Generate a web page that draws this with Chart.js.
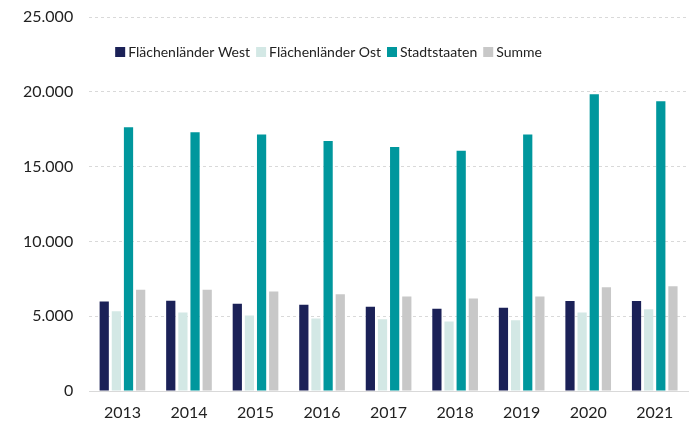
<!DOCTYPE html>
<html>
<head>
<meta charset="utf-8">
<script src="https://cdn.jsdelivr.net/npm/chart.js@4"></script>
<style>
  body { margin: 0; background: #fff; }
  #wrap { width: 693px; height: 424px; }
</style>
</head>
<body>
<div id="wrap"><canvas id="chart"></canvas></div>
<script>
const years = ["2013", "2014", "2015", "2016", "2017", "2018", "2019", "2020", "2021"];
const west = [5980, 6040, 5840, 5760, 5640, 5490, 5560, 6020, 6020];
const ost = [5330, 5240, 5040, 4840, 4790, 4640, 4730, 5240, 5460];
const stadt = [17630, 17290, 17150, 16710, 16310, 16060, 17150, 19830, 19360];
const summe = [6760, 6760, 6650, 6470, 6310, 6180, 6310, 6930, 7000];

const font = "Lato, 'Liberation Sans', sans-serif";

// legend drawn inside the plot area, one row
const innerLegend = {
    id: "innerLegend",
    afterDraw(chart) {
        const ctx = chart.ctx;
        const area = chart.chartArea;
        let x = area.left + 26;
        const y = area.top + 35;
        ctx.save();
        ctx.font = "14px " + font;
        ctx.textBaseline = "middle";
        chart.data.datasets.forEach(ds => {
            ctx.fillStyle = ds.backgroundColor;
            ctx.fillRect(x, y - 5, 10, 10);
            x += 13;
            ctx.fillStyle = "#222";
            ctx.fillText(ds.label, x, y);
            x += ctx.measureText(ds.label).width + 6;
        });
        ctx.restore();
    }
};

new Chart(document.getElementById("chart"), {
    type: "bar",
    data: {
        labels: years,
        datasets: [
            { label: "Flächenländer West", data: west, backgroundColor: "#1b2157" },
            { label: "Flächenländer Ost", data: ost, backgroundColor: "#d3e8e5" },
            { label: "Stadtstaaten", data: stadt, backgroundColor: "#00979d" },
            { label: "Summe", data: summe, backgroundColor: "#c8c8c8" }
        ]
    },
    options: {
        responsive: true,
        maintainAspectRatio: false,
        animation: false,
        layout: { autoPadding: false, padding: { left: 7, right: 5, top: 0, bottom: 0 } },
        datasets: {
            bar: { categoryPercentage: 0.73, barPercentage: 0.76 }
        },
        scales: {
            x: {
                grid: { display: false, drawTicks: false },
                border: { display: true, color: "#d9d9d9", width: 1 },
                ticks: { color: "#222", font: { family: font, size: 16 }, padding: 12 },
                afterFit: s => { s.height = 33; }
            },
            y: {
                min: 0,
                max: 25000,
                ticks: {
                    stepSize: 5000,
                    color: "#222",
                    padding: 16,
                    font: { family: font, size: 16 },
                    callback: v => v.toLocaleString("de-DE")
                },
                grid: { color: "#d9d9d9", drawTicks: false },
                border: { display: false, dash: [3, 3] },
                afterFit: s => { s.paddingTop = 17; }
            }
        },
        plugins: {
            legend: { display: false },
            tooltip: { enabled: false }
        }
    },
    plugins: [innerLegend]
});
</script>
</body>
</html>
